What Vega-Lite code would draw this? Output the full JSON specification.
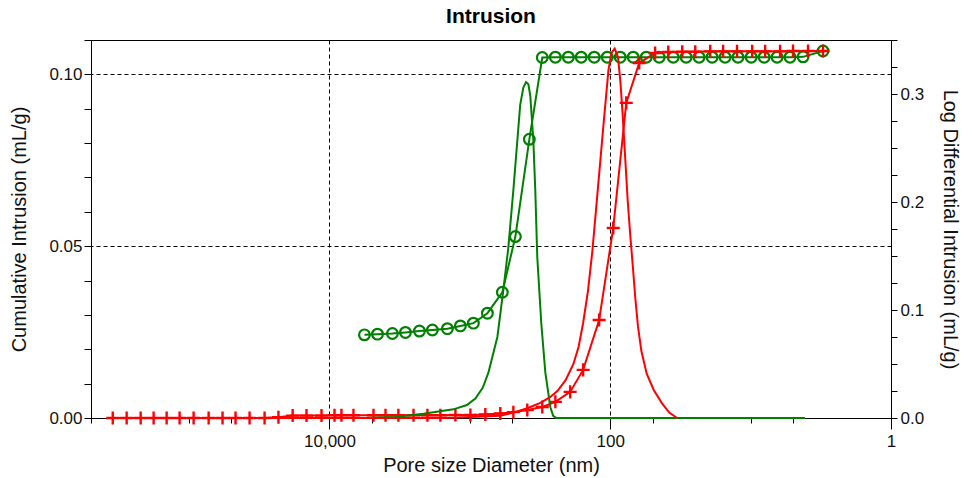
{
  "$schema": "https://vega.github.io/schema/vega-lite/v6.json",
  "autosize": "none",
  "width": 800,
  "height": 378,
  "padding": {"left": 91, "top": 40, "right": 71, "bottom": 60},
  "background": "white",
  "title": {"text": "Intrusion", "font": "Liberation Sans", "fontSize": 21, "fontWeight": "bold", "color": "#000", "anchor": "middle", "frame": "group", "offset": 4},
  "config": {
    "view": {"stroke": "#000", "strokeWidth": 1},
    "axis": {"domainColor": "#000", "tickColor": "#000", "labelColor": "#111", "titleColor": "#111", "labelFont": "Liberation Sans", "titleFont": "Liberation Sans", "labelFontSize": 17, "titleFontSize": 20, "titleFontWeight": "normal", "gridColor": "#000", "gridDash": [4, 3], "gridWidth": 1}
  },
  "datasets": {
    "d": [
      {"s": "G", "k": "c", "d": 5636, "v": 0.0242},
      {"s": "G", "k": "c", "d": 4550, "v": 0.0244},
      {"s": "G", "k": "c", "d": 3562, "v": 0.0246},
      {"s": "G", "k": "c", "d": 2877, "v": 0.0249},
      {"s": "G", "k": "c", "d": 2287, "v": 0.0253},
      {"s": "G", "k": "c", "d": 1849, "v": 0.0256},
      {"s": "G", "k": "c", "d": 1446, "v": 0.026},
      {"s": "G", "k": "c", "d": 1169, "v": 0.0268},
      {"s": "G", "k": "c", "d": 944, "v": 0.0276},
      {"s": "G", "k": "c", "d": 750, "v": 0.0305},
      {"s": "G", "k": "c", "d": 587, "v": 0.0366},
      {"s": "G", "k": "c", "d": 474, "v": 0.0528},
      {"s": "G", "k": "c", "d": 377, "v": 0.0811},
      {"s": "G", "k": "c", "d": 305, "v": 0.1049},
      {"s": "G", "k": "c", "d": 246, "v": 0.105},
      {"s": "G", "k": "c", "d": 199, "v": 0.105},
      {"s": "G", "k": "c", "d": 161, "v": 0.105},
      {"s": "G", "k": "c", "d": 130, "v": 0.105},
      {"s": "G", "k": "c", "d": 105, "v": 0.105},
      {"s": "G", "k": "c", "d": 84.9, "v": 0.105},
      {"s": "G", "k": "c", "d": 68.6, "v": 0.105},
      {"s": "G", "k": "c", "d": 55.4, "v": 0.105},
      {"s": "G", "k": "c", "d": 44.8, "v": 0.105},
      {"s": "G", "k": "c", "d": 35.6, "v": 0.105},
      {"s": "G", "k": "c", "d": 28.8, "v": 0.105},
      {"s": "G", "k": "c", "d": 23.3, "v": 0.105},
      {"s": "G", "k": "c", "d": 18.8, "v": 0.105},
      {"s": "G", "k": "c", "d": 15.2, "v": 0.105},
      {"s": "G", "k": "c", "d": 12.3, "v": 0.105},
      {"s": "G", "k": "c", "d": 9.91, "v": 0.105},
      {"s": "G", "k": "c", "d": 8.01, "v": 0.105},
      {"s": "G", "k": "c", "d": 6.48, "v": 0.105},
      {"s": "G", "k": "c", "d": 5.24, "v": 0.105},
      {"s": "G", "k": "c", "d": 4.23, "v": 0.1051},
      {"s": "G", "k": "c", "d": 3.05, "v": 0.1068},

      {"s": "G", "k": "l", "d": 5636, "v": 0},
      {"s": "G", "k": "l", "d": 3390, "v": 0.001},
      {"s": "G", "k": "l", "d": 2143, "v": 0.004},
      {"s": "G", "k": "l", "d": 1310, "v": 0.008},
      {"s": "G", "k": "l", "d": 1050, "v": 0.012},
      {"s": "G", "k": "l", "d": 914, "v": 0.018},
      {"s": "G", "k": "l", "d": 810, "v": 0.028},
      {"s": "G", "k": "l", "d": 738, "v": 0.042},
      {"s": "G", "k": "l", "d": 637, "v": 0.075},
      {"s": "G", "k": "l", "d": 578, "v": 0.118},
      {"s": "G", "k": "l", "d": 532, "v": 0.158},
      {"s": "G", "k": "l", "d": 490, "v": 0.211},
      {"s": "G", "k": "l", "d": 459, "v": 0.257},
      {"s": "G", "k": "l", "d": 438, "v": 0.29},
      {"s": "G", "k": "l", "d": 416, "v": 0.306},
      {"s": "G", "k": "l", "d": 398, "v": 0.311},
      {"s": "G", "k": "l", "d": 383, "v": 0.309},
      {"s": "G", "k": "l", "d": 371, "v": 0.298},
      {"s": "G", "k": "l", "d": 353, "v": 0.257},
      {"s": "G", "k": "l", "d": 342, "v": 0.211},
      {"s": "G", "k": "l", "d": 331, "v": 0.149},
      {"s": "G", "k": "l", "d": 310, "v": 0.088},
      {"s": "G", "k": "l", "d": 290, "v": 0.042},
      {"s": "G", "k": "l", "d": 267, "v": 0.01},
      {"s": "G", "k": "l", "d": 255, "v": 0.002},
      {"s": "G", "k": "l", "d": 242, "v": 0},
      {"s": "G", "k": "l", "d": 199, "v": 0},
      {"s": "G", "k": "l", "d": 84.9, "v": 0},
      {"s": "G", "k": "l", "d": 35.6, "v": 0},
      {"s": "G", "k": "l", "d": 15.2, "v": 0},
      {"s": "G", "k": "l", "d": 4.1, "v": 0},

      {"s": "R", "k": "c", "d": 350000, "v": 0},
      {"s": "R", "k": "c", "d": 278600, "v": 0},
      {"s": "R", "k": "c", "d": 221400, "v": 0},
      {"s": "R", "k": "c", "d": 179000, "v": 0},
      {"s": "R", "k": "c", "d": 144600, "v": 0},
      {"s": "R", "k": "c", "d": 116900, "v": 0},
      {"s": "R", "k": "c", "d": 92900, "v": 0},
      {"s": "R", "k": "c", "d": 72600, "v": 0},
      {"s": "R", "k": "c", "d": 57800, "v": 0},
      {"s": "R", "k": "c", "d": 46700, "v": 0},
      {"s": "R", "k": "c", "d": 37100, "v": 0},
      {"s": "R", "k": "c", "d": 29000, "v": 0},
      {"s": "R", "k": "c", "d": 23100, "v": 0.0002},
      {"s": "R", "k": "c", "d": 18300, "v": 0.0007},
      {"s": "R", "k": "c", "d": 14580, "v": 0.0007},
      {"s": "R", "k": "c", "d": 11400, "v": 0.0007},
      {"s": "R", "k": "c", "d": 9210, "v": 0.0008},
      {"s": "R", "k": "c", "d": 8220, "v": 0.0008},
      {"s": "R", "k": "c", "d": 6750, "v": 0.0008},
      {"s": "R", "k": "c", "d": 4860, "v": 0.0008},
      {"s": "R", "k": "c", "d": 3990, "v": 0.0008},
      {"s": "R", "k": "c", "d": 3230, "v": 0.0008},
      {"s": "R", "k": "c", "d": 2520, "v": 0.0008},
      {"s": "R", "k": "c", "d": 2006, "v": 0.0008},
      {"s": "R", "k": "c", "d": 1622, "v": 0.0008},
      {"s": "R", "k": "c", "d": 1268, "v": 0.0009},
      {"s": "R", "k": "c", "d": 991, "v": 0.0009},
      {"s": "R", "k": "c", "d": 776, "v": 0.001},
      {"s": "R", "k": "c", "d": 607, "v": 0.0013},
      {"s": "R", "k": "c", "d": 490, "v": 0.0017},
      {"s": "R", "k": "c", "d": 390, "v": 0.0023},
      {"s": "R", "k": "c", "d": 305, "v": 0.0032},
      {"s": "R", "k": "c", "d": 246, "v": 0.0047},
      {"s": "R", "k": "c", "d": 193, "v": 0.0076},
      {"s": "R", "k": "c", "d": 156, "v": 0.014},
      {"s": "R", "k": "c", "d": 120, "v": 0.0285},
      {"s": "R", "k": "c", "d": 95.2, "v": 0.0553},
      {"s": "R", "k": "c", "d": 76.9, "v": 0.0917},
      {"s": "R", "k": "c", "d": 62.2, "v": 0.1033},
      {"s": "R", "k": "c", "d": 47.9, "v": 0.1062},
      {"s": "R", "k": "c", "d": 38.6, "v": 0.1065},
      {"s": "R", "k": "c", "d": 30.7, "v": 0.1066},
      {"s": "R", "k": "c", "d": 24.8, "v": 0.1066},
      {"s": "R", "k": "c", "d": 19.4, "v": 0.1067},
      {"s": "R", "k": "c", "d": 15.7, "v": 0.1067},
      {"s": "R", "k": "c", "d": 12.5, "v": 0.1067},
      {"s": "R", "k": "c", "d": 9.75, "v": 0.1067},
      {"s": "R", "k": "c", "d": 7.88, "v": 0.1067},
      {"s": "R", "k": "c", "d": 6.17, "v": 0.1067},
      {"s": "R", "k": "c", "d": 4.99, "v": 0.1068},
      {"s": "R", "k": "c", "d": 3.9, "v": 0.1068},
      {"s": "R", "k": "c", "d": 3.05, "v": 0.1068},

      {"s": "R", "k": "l", "d": 350000, "v": 0},
      {"s": "R", "k": "l", "d": 92900, "v": 0},
      {"s": "R", "k": "l", "d": 23100, "v": 0},
      {"s": "R", "k": "l", "d": 4860, "v": 0},
      {"s": "R", "k": "l", "d": 1622, "v": 0},
      {"s": "R", "k": "l", "d": 991, "v": 0.001},
      {"s": "R", "k": "l", "d": 607, "v": 0.002},
      {"s": "R", "k": "l", "d": 490, "v": 0.005},
      {"s": "R", "k": "l", "d": 390, "v": 0.009},
      {"s": "R", "k": "l", "d": 315, "v": 0.014},
      {"s": "R", "k": "l", "d": 270, "v": 0.019},
      {"s": "R", "k": "l", "d": 238, "v": 0.025},
      {"s": "R", "k": "l", "d": 208, "v": 0.035},
      {"s": "R", "k": "l", "d": 183, "v": 0.05},
      {"s": "R", "k": "l", "d": 168, "v": 0.066},
      {"s": "R", "k": "l", "d": 156, "v": 0.088},
      {"s": "R", "k": "l", "d": 144, "v": 0.118},
      {"s": "R", "k": "l", "d": 134, "v": 0.155},
      {"s": "R", "k": "l", "d": 122, "v": 0.215},
      {"s": "R", "k": "l", "d": 112, "v": 0.27},
      {"s": "R", "k": "l", "d": 103, "v": 0.322},
      {"s": "R", "k": "l", "d": 98, "v": 0.338},
      {"s": "R", "k": "l", "d": 93, "v": 0.342},
      {"s": "R", "k": "l", "d": 88, "v": 0.334},
      {"s": "R", "k": "l", "d": 84.5, "v": 0.31},
      {"s": "R", "k": "l", "d": 81.5, "v": 0.28},
      {"s": "R", "k": "l", "d": 78.2, "v": 0.24},
      {"s": "R", "k": "l", "d": 75, "v": 0.2},
      {"s": "R", "k": "l", "d": 72.1, "v": 0.17},
      {"s": "R", "k": "l", "d": 69, "v": 0.14},
      {"s": "R", "k": "l", "d": 66.4, "v": 0.112},
      {"s": "R", "k": "l", "d": 63.5, "v": 0.085},
      {"s": "R", "k": "l", "d": 60, "v": 0.062},
      {"s": "R", "k": "l", "d": 55, "v": 0.041},
      {"s": "R", "k": "l", "d": 49, "v": 0.026},
      {"s": "R", "k": "l", "d": 43, "v": 0.014},
      {"s": "R", "k": "l", "d": 38, "v": 0.005},
      {"s": "R", "k": "l", "d": 33.4, "v": 0}
    ]
  },
  "data": {"name": "d"},
  "encoding": {
    "x": {
      "field": "d", "type": "quantitative",
      "scale": {"type": "log", "domain": [1, 500000], "reverse": true, "nice": false},
      "axis": {
        "values": [500000, 100000, 50000, 10000, 5000, 1000, 500, 100, 50, 10, 5, 1],
        "labelExpr": "datum.value == 10000 || datum.value == 100 || datum.value == 1 ? format(datum.value, ',') : ''",
        "title": "Pore size Diameter (nm)",
        "grid": true,
        "gridOpacity": {"condition": {"test": "datum.value == 10000 || datum.value == 100", "value": 1}, "value": 0},
        "tickSize": {"condition": {"test": "datum.value == 10000 || datum.value == 100 || datum.value == 1", "value": 11}, "value": 5},
        "labelPadding": 4,
        "labelFlush": false,
        "labelOverlap": false,
        "titleY": 53,
        "titleBaseline": "alphabetic"
      }
    },
    "color": {"field": "s", "type": "nominal", "scale": {"domain": ["G", "R"], "range": ["#008000", "#ff0000"]}, "legend": null}
  },
  "layer": [
    {
      "transform": [{"filter": "datum.k == 'c'"}],
      "encoding": {
        "y": {
          "field": "v", "type": "quantitative",
          "scale": {"domain": [0, 0.11], "nice": false},
          "axis": {
            "orient": "left",
            "values": [0, 0.01, 0.02, 0.03, 0.04, 0.05, 0.06, 0.07, 0.08, 0.09, 0.1, 0.11],
            "labelExpr": "datum.value == 0 || datum.value == 0.05 || datum.value == 0.1 ? format(datum.value, '.2f') : ''",
            "grid": true,
            "gridOpacity": {"condition": {"test": "datum.value == 0.05 || datum.value == 0.1", "value": 1}, "value": 0},
            "tickSize": 7,
            "labelPadding": 2,
            "labelFlush": false,
            "labelOverlap": false,
            "title": "Cumulative Intrusion (mL/g)",
            "titleX": -66,
            "titleY": 189,
            "titleAngle": 270,
            "titleAlign": "center",
            "titleBaseline": "alphabetic"
          }
        }
      },
      "layer": [
        {"mark": {"type": "line", "strokeWidth": 2}},
        {"transform": [{"filter": "datum.s == 'G'"}], "mark": {"type": "point", "shape": "circle", "filled": false, "size": 115, "strokeWidth": 2.2, "opacity": 1}},
        {"transform": [{"filter": "datum.s == 'R'"}], "mark": {"type": "point", "shape": "M-1,0L1,0M0,-1L0,1", "filled": false, "size": 170, "strokeWidth": 2.4, "opacity": 1}}
      ]
    },
    {
      "transform": [{"filter": "datum.k == 'l'"}],
      "encoding": {
        "y": {
          "field": "v", "type": "quantitative",
          "scale": {"domain": [0, 0.35], "nice": false},
          "axis": {
            "orient": "right",
            "values": [0, 0.025, 0.05, 0.075, 0.1, 0.125, 0.15, 0.175, 0.2, 0.225, 0.25, 0.275, 0.3, 0.325, 0.35],
            "labelExpr": "datum.value == 0 || datum.value == 0.1 || datum.value == 0.2 || datum.value == 0.3 ? format(datum.value, '.1f') : ''",
            "grid": false,
            "tickSize": 6,
            "labelPadding": 3,
            "labelFlush": false,
            "labelOverlap": false,
            "title": "Log Differential Intrusion (mL/g)",
            "titleX": 52,
            "titleY": 189,
            "titleAngle": 90,
            "titleAlign": "center",
            "titleBaseline": "alphabetic"
          }
        }
      },
      "mark": {"type": "line", "strokeWidth": 2}
    }
  ],
  "resolve": {"scale": {"y": "independent"}}
}
